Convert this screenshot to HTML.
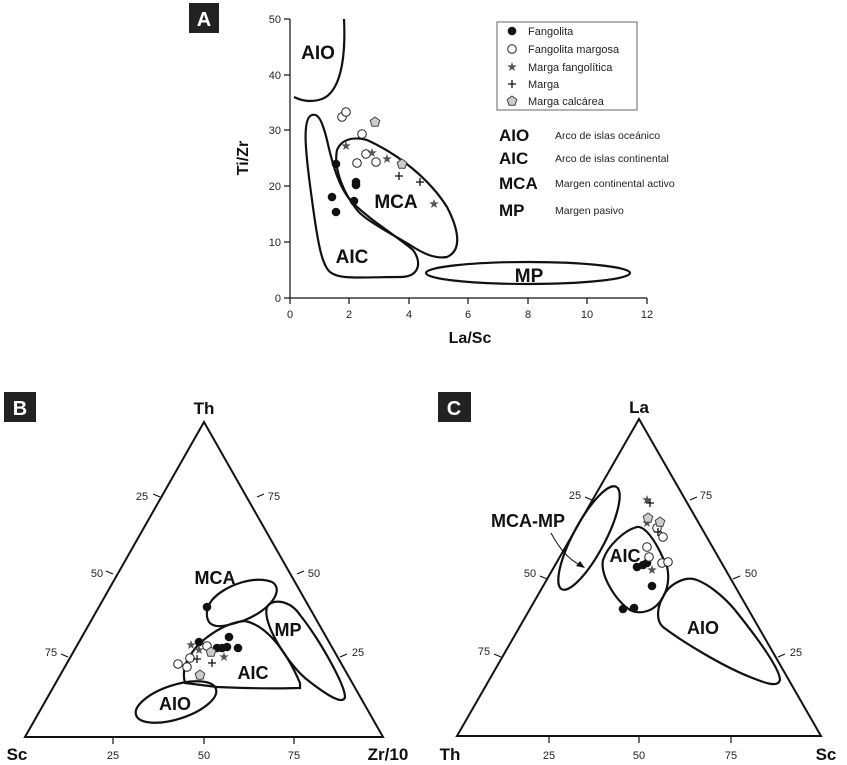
<!DOCTYPE html>
<html><head><meta charset="utf-8"><style>
html,body{margin:0;padding:0;background:#fff;}
svg{display:block;font-family:"Liberation Sans",Arial,sans-serif;}
.l{fill:none;stroke:#111;stroke-width:2.2;}
.t{stroke:#111;stroke-width:1.2;}
.b{font-weight:bold;fill:#111;}
.s{font-size:11px;fill:#222;}
</style></head><body>
<svg width="847" height="765" viewBox="0 0 847 765" xmlns="http://www.w3.org/2000/svg">
<defs>
<circle id="f" r="4.3" fill="#111"/>
<circle id="o" r="4.3" fill="#fff" stroke="#222" stroke-width="1"/>
<path id="st" d="M0,-5 L1.2,-1.6 4.8,-1.6 1.9,0.6 3,4 0,2 -3,4 -1.9,0.6 -4.8,-1.6 -1.2,-1.6Z" fill="#555"/>
<path id="p" d="M-4,0H4M0,-4V4" stroke="#111" stroke-width="1.3"/>
<path id="pg" d="M0,-5 L4.8,-1.5 3,4.2 -3,4.2 -4.8,-1.5Z" fill="#ccc" stroke="#444" stroke-width="1"/>
</defs>
<rect width="847" height="765" fill="#fff"/>

<!-- Panel A -->
<rect x="189" y="3" width="30" height="30" fill="#222"/>
<text x="204" y="26" text-anchor="middle" class="b" style="fill:#fff;font-size:20px">A</text>
<line x1="290" y1="19" x2="290" y2="298" class="t"/>
<line x1="290" y1="298" x2="647" y2="298" class="t"/>
<g class="t">
<line x1="284" y1="298" x2="290" y2="298"/><line x1="284" y1="242" x2="290" y2="242"/><line x1="284" y1="186" x2="290" y2="186"/><line x1="284" y1="130" x2="290" y2="130"/><line x1="284" y1="75" x2="290" y2="75"/><line x1="284" y1="19" x2="290" y2="19"/>
<line x1="290" y1="298" x2="290" y2="304"/><line x1="349" y1="298" x2="349" y2="304"/><line x1="409" y1="298" x2="409" y2="304"/><line x1="468" y1="298" x2="468" y2="304"/><line x1="528" y1="298" x2="528" y2="304"/><line x1="587" y1="298" x2="587" y2="304"/><line x1="647" y1="298" x2="647" y2="304"/>
</g>
<g class="s" text-anchor="end">
<text x="281" y="302">0</text><text x="281" y="246">10</text><text x="281" y="190">20</text><text x="281" y="134">30</text><text x="281" y="79">40</text><text x="281" y="23">50</text>
</g>
<g class="s" text-anchor="middle">
<text x="290" y="318">0</text><text x="349" y="318">2</text><text x="409" y="318">4</text><text x="468" y="318">6</text><text x="528" y="318">8</text><text x="587" y="318">10</text><text x="647" y="318">12</text>
</g>
<text x="470" y="343" text-anchor="middle" class="b" style="font-size:16px">La/Sc</text>
<text transform="translate(248,158) rotate(-90)" text-anchor="middle" class="b" style="font-size:16px">Ti/Zr</text>

<path class="l" d="M294,97 C300,100 310,103 322,99 C340,92 346,60 344,19"/>
<path class="l" d="M312,115 C302,118 305,150 312,200 C318,245 322,265 330,272 C340,280 360,277 400,277 C420,277 422,262 413,250 C395,235 370,220 353,203 C340,190 333,167 327,140 C322,120 318,113 312,115Z"/>
<path class="l" d="M337,150 C341,140 352,136 367,140 C400,155 430,180 447,207 C458,228 463,250 447,257 C435,259 424,254 410,245 C390,233 365,220 357,210 C345,195 333,170 337,150Z"/>
<ellipse cx="528" cy="273" rx="102" ry="11" class="l"/>
<g class="b" style="font-size:19px" text-anchor="middle">
<text x="318" y="59">AIO</text><text x="396" y="208">MCA</text><text x="352" y="263">AIC</text><text x="529" y="282">MP</text>
</g>
<rect x="497" y="22" width="140" height="88" fill="#fff" stroke="#666" stroke-width="1"/>
<use href="#f" x="512" y="31"/><use href="#o" x="512" y="49"/><use href="#st" x="512" y="67"/><use href="#p" x="512" y="84"/><use href="#pg" x="512" y="101"/>
<g class="s" style="font-size:11px">
<text x="528" y="35">Fangolita</text><text x="528" y="53">Fangolita margosa</text><text x="528" y="71">Marga fangolítica</text><text x="528" y="88">Marga</text><text x="528" y="105">Marga calcárea</text>
</g>
<g class="b" style="font-size:17px">
<text x="499" y="141">AIO</text><text x="499" y="164">AIC</text><text x="499" y="189">MCA</text><text x="499" y="216">MP</text>
</g>
<g class="s" style="font-size:10.5px">
<text x="555" y="139">Arco de islas oceánico</text><text x="555" y="162">Arco de islas continental</text><text x="555" y="187">Margen continental activo</text><text x="555" y="214">Margen pasivo</text>
</g>
<use href="#f" x="336" y="164"/><use href="#f" x="356" y="182"/><use href="#f" x="356" y="185"/><use href="#f" x="332" y="197"/><use href="#f" x="354" y="201"/><use href="#f" x="336" y="212"/>
<use href="#o" x="342" y="117"/><use href="#o" x="346" y="112"/><use href="#o" x="362" y="134"/><use href="#o" x="357" y="163"/><use href="#o" x="366" y="154"/><use href="#o" x="376" y="162"/>
<use href="#st" x="346" y="146"/><use href="#st" x="372" y="153"/><use href="#st" x="387" y="159"/><use href="#st" x="434" y="204"/>
<use href="#p" x="399" y="176"/><use href="#p" x="420" y="182"/>
<use href="#pg" x="375" y="122"/><use href="#pg" x="402" y="164"/>

<!-- Panel B -->
<rect x="4" y="392" width="32" height="30" fill="#222"/>
<text x="20" y="415" text-anchor="middle" class="b" style="fill:#fff;font-size:20px">B</text>
<path d="M204,422 L25,737 L383,737Z" fill="none" stroke="#111" stroke-width="2"/>
<g class="t">
<line x1="160" y1="497" x2="153" y2="494"/><line x1="113" y1="574" x2="106" y2="571"/><line x1="68" y1="657" x2="61" y2="654"/>
<line x1="257" y1="497" x2="264" y2="494"/><line x1="297" y1="574" x2="304" y2="571"/><line x1="340" y1="657" x2="347" y2="654"/>
<line x1="113" y1="737" x2="113" y2="744"/><line x1="204" y1="737" x2="204" y2="744"/><line x1="294" y1="737" x2="294" y2="744"/>
</g>
<g class="s" text-anchor="middle">
<text x="142" y="500">25</text><text x="97" y="577">50</text><text x="51" y="656">75</text>
<text x="274" y="500">75</text><text x="314" y="577">50</text><text x="358" y="656">25</text>
<text x="113" y="759">25</text><text x="204" y="759">50</text><text x="294" y="759">75</text>
</g>
<g class="b" style="font-size:17px" text-anchor="middle">
<text x="204" y="414">Th</text><text x="17" y="760">Sc</text><text x="388" y="760">Zr/10</text>
</g>
<path class="l" d="M212,600 C225,585 255,575 272,582 C285,590 270,610 245,620 C230,625 215,630 209,622 C205,615 207,607 212,600Z"/>
<path class="l" d="M267,607 C272,598 290,600 300,615 C320,640 345,685 345,697 C343,707 320,690 305,678 C285,660 262,622 267,607Z"/>
<path class="l" d="M185,683 C182,672 184,660 200,643 C215,630 230,622 245,621 C265,625 285,648 300,683 L300,688 C270,689 240,688 217,687 Z"/>
<ellipse cx="176" cy="702" rx="42" ry="17" transform="rotate(-18 176 702)" class="l"/>
<g class="b" style="font-size:18px" text-anchor="middle">
<text x="215" y="584">MCA</text><text x="288" y="636">MP</text><text x="253" y="679">AIC</text><text x="175" y="710">AIO</text>
</g>
<use href="#f" x="207" y="607"/><use href="#f" x="199" y="642"/><use href="#f" x="217" y="648"/><use href="#f" x="227" y="647"/><use href="#f" x="229" y="637"/><use href="#f" x="238" y="648"/><use href="#f" x="222" y="648"/>
<use href="#o" x="178" y="664"/><use href="#o" x="187" y="667"/><use href="#o" x="190" y="658"/><use href="#o" x="207" y="646"/>
<use href="#st" x="191" y="645"/><use href="#st" x="199" y="650"/><use href="#st" x="224" y="657"/>
<use href="#p" x="197" y="659"/><use href="#p" x="212" y="663"/>
<use href="#pg" x="200" y="675"/><use href="#pg" x="211" y="652"/>

<!-- Panel C -->
<rect x="438" y="392" width="33" height="30" fill="#222"/>
<text x="454" y="415" text-anchor="middle" class="b" style="fill:#fff;font-size:20px">C</text>
<path d="M639,419 L457,736 L821,736Z" fill="none" stroke="#111" stroke-width="2"/>
<g class="t">
<line x1="592" y1="500" x2="585" y2="497"/><line x1="547" y1="579" x2="540" y2="576"/><line x1="501" y1="657" x2="494" y2="654"/>
<line x1="690" y1="500" x2="697" y2="497"/><line x1="733" y1="579" x2="740" y2="576"/><line x1="778" y1="657" x2="785" y2="654"/>
<line x1="549" y1="736" x2="549" y2="743"/><line x1="639" y1="736" x2="639" y2="743"/><line x1="731" y1="736" x2="731" y2="743"/>
</g>
<g class="s" text-anchor="middle">
<text x="575" y="499">25</text><text x="530" y="577">50</text><text x="484" y="655">75</text>
<text x="706" y="499">75</text><text x="751" y="577">50</text><text x="796" y="656">25</text>
<text x="549" y="759">25</text><text x="639" y="759">50</text><text x="731" y="759">75</text>
</g>
<g class="b" style="font-size:17px" text-anchor="middle">
<text x="639" y="413">La</text><text x="450" y="760">Th</text><text x="826" y="760">Sc</text>
</g>
<ellipse cx="589" cy="538" rx="58" ry="16" transform="rotate(-62 589 538)" class="l"/>
<path class="l" d="M637,527 C625,530 608,545 603,560 C600,575 615,600 630,610 C640,615 655,612 663,597 C670,585 670,568 663,558 C655,540 645,526 637,527Z"/>
<path class="l" d="M663,597 C668,585 685,575 697,580 C710,585 725,598 735,610 C755,635 780,668 780,680 C778,688 765,683 750,677 C720,665 680,640 663,627 C655,620 658,605 663,597Z"/>
<g class="b" style="font-size:18px" text-anchor="middle">
<text x="528" y="527">MCA-MP</text><text x="625" y="562">AIC</text><text x="703" y="634">AIO</text>
</g>
<path d="M551,533 C560,550 570,560 580,565" fill="none" stroke="#111" stroke-width="1"/>
<path d="M585,568 L576,566 L580,561Z" fill="#111"/>
<use href="#f" x="637" y="567"/><use href="#f" x="643" y="565"/><use href="#f" x="647" y="563"/><use href="#f" x="652" y="586"/><use href="#f" x="623" y="609"/><use href="#f" x="634" y="608"/>
<use href="#o" x="647" y="547"/><use href="#o" x="649" y="557"/><use href="#o" x="663" y="537"/><use href="#o" x="662" y="563"/><use href="#o" x="668" y="562"/><use href="#o" x="657" y="528"/>
<use href="#st" x="647" y="500"/><use href="#st" x="647" y="523"/><use href="#st" x="652" y="570"/>
<use href="#p" x="650" y="503"/><use href="#p" x="658" y="532"/>
<use href="#pg" x="648" y="518"/><use href="#pg" x="660" y="522"/>
</svg>
</body></html>
